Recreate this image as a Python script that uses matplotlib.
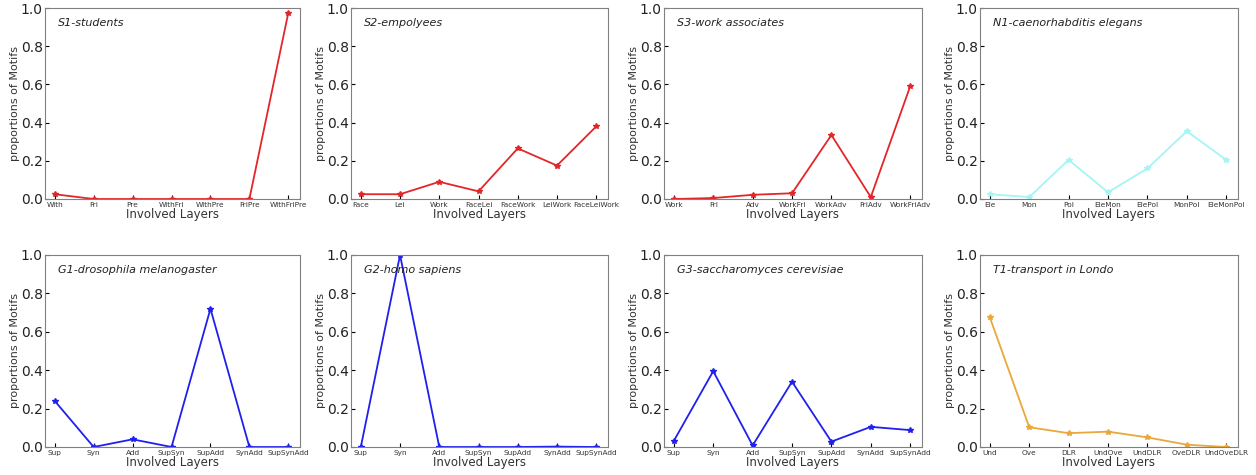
import matplotlib
matplotlib.use("Agg")
import matplotlib.pyplot as plt
import numpy as np

# layer labels per network
s1_layers = ["With", "Fri", "Pre", "WithFri", "WithPre", "FriPre", "WithFriPre"]
s2_layers = ["Face", "Lei", "Work", "FaceLei", "FaceWork", "LeiWork", "FaceLeiWork"]
s3_layers = ["Work", "Fri", "Adv", "WorkFri", "WorkAdv", "FriAdv", "WorkFriAdv"]
n1_layers = ["Ele", "Mon", "Pol", "EleMon", "ElePol", "MonPol", "EleMonPol"]
g_layers = ["Sup", "Syn", "Add", "SupSyn", "SupAdd", "SynAdd", "SupSynAdd"]
t1_layers = ["Und", "Ove", "DLR", "UndOve", "UndDLR", "OveDLR", "UndOveDLR"]

# proportions of motifs
s1_vals = [0.025, 0.0, 0.0, 0.0, 0.0, 0.0, 0.975]
s2_vals = [0.025, 0.025, 0.09, 0.04, 0.265, 0.175, 0.38]
s3_vals = [0.0, 0.005, 0.022, 0.03, 0.335, 0.01, 0.59]
n1_vals = [0.025, 0.01, 0.205, 0.035, 0.16, 0.355, 0.205]
g1_vals = [0.24, 0.0, 0.04, 0.0, 0.72, 0.0, 0.0]
g2_vals = [0.0, 1.0, 0.0, 0.0, 0.0, 0.002, 0.0]
g3_vals = [0.032, 0.395, 0.008, 0.34, 0.028, 0.105, 0.088]
t1_vals = [0.675, 0.103, 0.072, 0.08, 0.05, 0.012, 0.0]

titles = ["S1-students", "S2-empolyees", "S3-work associates", "N1-caenorhabditis elegans",
          "G1-drosophila melanogaster", "G2-homo sapiens", "G3-saccharomyces cerevisiae",
          "T1-transport in Londo"]

panels = [
    (s1_layers, s1_vals, "#e3262a"),
    (s2_layers, s2_vals, "#e3262a"),
    (s3_layers, s3_vals, "#e3262a"),
    (n1_layers, n1_vals, "#a6f4f4"),
    (g_layers, g1_vals, "#2020ee"),
    (g_layers, g2_vals, "#2020ee"),
    (g_layers, g3_vals, "#2020ee"),
    (t1_layers, t1_vals, "#eaa83a"),
]

fig = plt.figure(figsize=(12.56, 4.75), dpi=100)
W, H = 1256.0, 475.0
lefts = [45, 351, 664, 980]
widths = [255, 257, 258, 258]
rows = [(8, 199), (255, 447)]

for i, (layers, vals, col) in enumerate(panels):
    r, c = divmod(i, 4)
    top, bot = rows[r]
    ax = fig.add_axes([lefts[c] / W, 1 - bot / H, widths[c] / W, (bot - top) / H])
    x = np.arange(len(layers))
    ax.plot(x, vals, color=col, lw=1.3, marker="*", ms=4)
    ax.set_xlim(-0.25, 6.3)
    ax.set_ylim(0, 1.0)
    ax.set_xticks(x)
    ax.set_xticklabels(layers, fontsize=5.3, color="#333333")
    ax.set_yticks(np.arange(0, 1.01, 0.2))
    ax.tick_params(axis="y", labelsize=10, direction="in", length=3, pad=1.5,
                   right=False, labelcolor="#222222")
    ax.tick_params(axis="x", direction="in", length=3, pad=2, top=False)
    for sp in ax.spines.values():
        sp.set_color("#808080")
    ax.set_xlabel("Involved Layers", fontsize=8.5, labelpad=0, color="#333333")
    ax.set_ylabel("proportions of Motifs", fontsize=8, labelpad=1, color="#333333")
    ax.text(0.05, 0.92, titles[i], transform=ax.transAxes, fontsize=8,
            style="italic", color="#222222", va="center")

fig.savefig("out.png", dpi=100)
